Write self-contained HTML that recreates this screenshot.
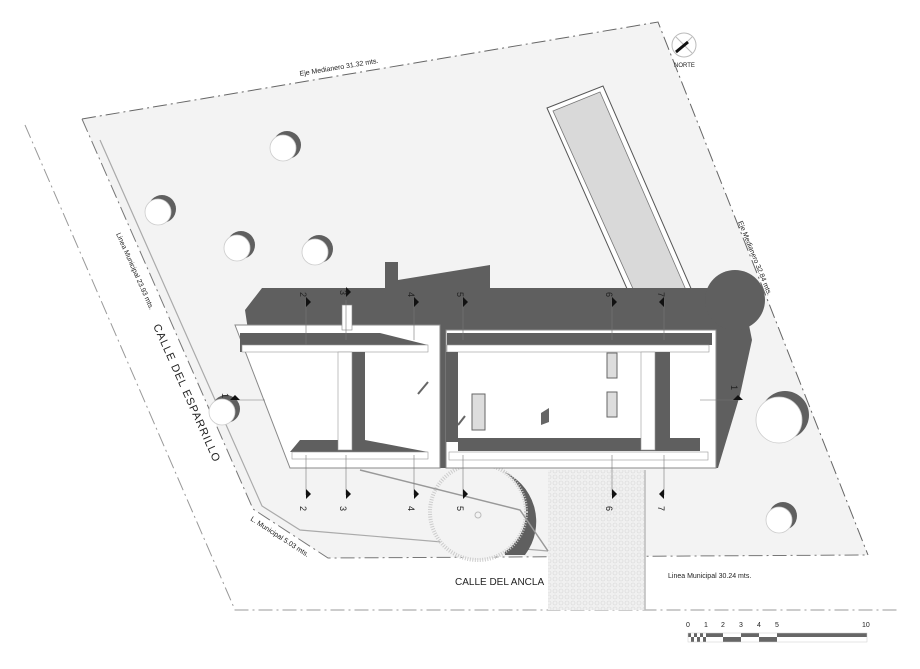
<!DOCTYPE html>
<html><head><meta charset="utf-8"><style>
html,body{margin:0;padding:0;background:#fff;}
svg{display:block;}
text{font-family:"Liberation Sans",sans-serif;fill:#222;}
</style></head><body>
<svg width="920" height="669" viewBox="0 0 920 669" xmlns="http://www.w3.org/2000/svg">
<defs>
<pattern id="pv" width="6" height="6" patternUnits="userSpaceOnUse"><rect width="6" height="6" fill="#f0f0f0"/><circle cx="3" cy="3" r="2" fill="none" stroke="#d8d8d8" stroke-width="0.6"/></pattern>
</defs>
<polygon points="82,119 658,22 868,555 328,558 253,509" fill="#f3f3f3"/>
<polyline points="82,119 658,22 868,555" fill="none" stroke="#666" stroke-width="1" stroke-dasharray="14,4,2,4"/>
<polyline points="82,119 253,509 328,558 868,555" fill="none" stroke="#777" stroke-width="1" stroke-dasharray="14,4,2,4"/>
<polyline points="100,140 262,506 300,530 548,551" fill="none" stroke="#aaa" stroke-width="1.2"/>
<polyline points="25,125 235,610 900,610" fill="none" stroke="#999" stroke-width="1" stroke-dasharray="14,4,2,4"/>
<rect x="548" y="470" width="97" height="140" fill="url(#pv)"/>
<line x1="645" y1="470" x2="645" y2="610" stroke="#bbb" stroke-width="1.5"/>
<polygon points="547,108 603,86 693,293 640,318" fill="#fff" stroke="#555" stroke-width="1"/>
<polygon points="553,111 600,92 686,290 643,311" fill="#d9d9d9" stroke="#777" stroke-width="0.8"/>
<polygon points="262,288 385,288 385,262 398,262 398,280 490,265 490,288 712,288 745,305 752,340 740,395 718,468 440,468 440,330 248,330 245,310" fill="#5f5f5f"/>
<circle cx="735" cy="300" r="30" fill="#5f5f5f"/>
<path d="M500,470 A55,55 0 0 1 525,555 L505,555 Z" fill="#5f5f5f"/>
<circle cx="478" cy="512" r="48" fill="#f3f3f3" stroke="#ccc" stroke-width="4" stroke-dasharray="1,1.5"/>
<circle cx="478" cy="515" r="3" fill="none" stroke="#bbb"/>
<polyline points="360,470 520,510 548,551" fill="none" stroke="#999" stroke-width="1.5"/>
<polygon points="235,325 440,325 440,468 290,468" fill="#fff" stroke="#888" stroke-width="1"/>
<polygon points="240,333 380,333 428,345 428,352 240,352" fill="#5f5f5f"/>
<rect x="242" y="345" width="186" height="7" fill="#fff" stroke="#999" stroke-width="0.6"/>
<rect x="342" y="305" width="10" height="25" fill="#fff" stroke="#888" stroke-width="0.6"/>
<rect x="352" y="352" width="13" height="88" fill="#5f5f5f"/>
<polygon points="290,452 300,440 365,440 428,452" fill="#5f5f5f"/>
<rect x="338" y="352" width="14" height="98" fill="#fff" stroke="#999" stroke-width="0.6"/>
<rect x="292" y="452" width="136" height="7" fill="#fff" stroke="#999" stroke-width="0.6"/>
<line x1="418" y1="394" x2="428" y2="382" stroke="#666" stroke-width="2"/>
<rect x="446" y="330" width="270" height="138" fill="#fff" stroke="#888" stroke-width="1"/>
<rect x="447" y="333" width="265" height="12" fill="#5f5f5f"/>
<rect x="447" y="345" width="262" height="7" fill="#fff" stroke="#999" stroke-width="0.6"/>
<rect x="446" y="352" width="12" height="90" fill="#5f5f5f"/>
<rect x="458" y="438" width="242" height="13" fill="#5f5f5f"/>
<rect x="655" y="352" width="15" height="88" fill="#5f5f5f"/>
<rect x="641" y="352" width="14" height="98" fill="#fff" stroke="#999" stroke-width="0.6"/>
<rect x="449" y="452" width="259" height="8" fill="#fff" stroke="#999" stroke-width="0.6"/>
<rect x="472" y="394" width="13" height="36" fill="#ddd" stroke="#666" stroke-width="1"/>
<rect x="607" y="353" width="10" height="25" fill="#ddd" stroke="#666" stroke-width="1"/>
<rect x="607" y="392" width="10" height="25" fill="#ddd" stroke="#666" stroke-width="1"/>
<polygon points="541,413 549,408 549,422 541,425" fill="#666"/>
<line x1="458" y1="425" x2="465" y2="416" stroke="#666" stroke-width="2"/>
<g fill="#fff" stroke="#ccc" stroke-width="0.8">
<g><circle cx="287" cy="145" r="14" fill="#5f5f5f" stroke="none"/><circle cx="283" cy="148" r="13"/></g>
<g><circle cx="162" cy="209" r="14" fill="#5f5f5f" stroke="none"/><circle cx="158" cy="212" r="13"/></g>
<g><circle cx="241" cy="245" r="14" fill="#5f5f5f" stroke="none"/><circle cx="237" cy="248" r="13"/></g>
<g><circle cx="319" cy="249" r="14" fill="#5f5f5f" stroke="none"/><circle cx="315" cy="252" r="13"/></g>
<g><circle cx="226" cy="409" r="14" fill="#5f5f5f" stroke="none"/><circle cx="222" cy="412" r="13"/></g>
<g><circle cx="785" cy="415" r="24" fill="#5f5f5f" stroke="none"/><circle cx="779" cy="420" r="23"/></g>
<g><circle cx="783" cy="516" r="14" fill="#5f5f5f" stroke="none"/><circle cx="779" cy="520" r="13"/></g>
</g>
<g stroke="#777" stroke-width="0.6">
<line x1="306" y1="300" x2="306" y2="345"/><line x1="346" y1="300" x2="346" y2="340"/><line x1="414" y1="300" x2="414" y2="340"/><line x1="463" y1="300" x2="463" y2="340"/><line x1="612" y1="300" x2="612" y2="340"/><line x1="664" y1="300" x2="664" y2="340"/>
<line x1="306" y1="455" x2="306" y2="495"/><line x1="346" y1="455" x2="346" y2="495"/><line x1="414" y1="455" x2="414" y2="495"/><line x1="463" y1="455" x2="463" y2="495"/><line x1="612" y1="455" x2="612" y2="495"/><line x1="664" y1="455" x2="664" y2="495"/>
<line x1="228" y1="400" x2="265" y2="400"/><line x1="700" y1="400" x2="740" y2="400"/>
</g>
<g fill="#111">
<polygon points="306,297 311,302 306,307"/><polygon points="346,287 351,292 346,297"/><polygon points="414,297 419,302 414,307"/><polygon points="463,297 468,302 463,307"/><polygon points="612,297 617,302 612,307"/><polygon points="664,297 659,302 664,307"/>
<polygon points="306,489 311,494 306,499"/><polygon points="346,489 351,494 346,499"/><polygon points="414,489 419,494 414,499"/><polygon points="463,489 468,494 463,499"/><polygon points="612,489 617,494 612,499"/><polygon points="664,489 659,494 664,499"/>
<polygon points="230,400 235,395 240,400"/><polygon points="733,400 738,395 743,400"/>
</g>
<g font-size="9">
<text transform="translate(300,292) rotate(90)">2</text><text transform="translate(340,290) rotate(90)">3</text><text transform="translate(408,292) rotate(90)">4</text><text transform="translate(457,292) rotate(90)">5</text><text transform="translate(606,292) rotate(90)">6</text><text transform="translate(658,292) rotate(90)">7</text>
<text transform="translate(300,506) rotate(90)">2</text><text transform="translate(340,506) rotate(90)">3</text><text transform="translate(408,506) rotate(90)">4</text><text transform="translate(457,506) rotate(90)">5</text><text transform="translate(606,506) rotate(90)">6</text><text transform="translate(658,506) rotate(90)">7</text>
<text transform="translate(222,393) rotate(90)">1</text><text transform="translate(731,385) rotate(90)">1</text>
</g>
<text font-size="7" transform="translate(300,76) rotate(-9.5)">Eje Medianero   31.32 mts.</text>
<text font-size="7" transform="translate(738,222) rotate(68)">Eje Medianero   32.84 mts.</text>
<text font-size="7" transform="translate(116,234) rotate(66)">Linea Municipal   23.93 mts.</text>
<text font-size="11" transform="translate(153,326) rotate(66)" letter-spacing="1">CALLE  DEL  ESPARRILLO</text>
<text font-size="7" transform="translate(250,520) rotate(33)">L. Municipal   5.03 mts.</text>
<text font-size="10" x="455" y="585">CALLE DEL ANCLA</text>
<text font-size="7" x="668" y="578">Linea Municipal   30.24 mts.</text>
<circle cx="684" cy="45" r="12" fill="#fff" stroke="#bbb"/>
<line x1="676" y1="37" x2="692" y2="53" stroke="#bbb"/>
<line x1="676" y1="53" x2="692" y2="37" stroke="#bbb"/>
<line x1="676" y1="52" x2="688" y2="42" stroke="#111" stroke-width="3"/>
<text font-size="6" x="674" y="67">NORTE</text>
<g font-size="7"><text x="686" y="627">0</text><text x="704" y="627">1</text><text x="721" y="627">2</text><text x="739" y="627">3</text><text x="757" y="627">4</text><text x="775" y="627">5</text><text x="862" y="627">10</text></g>
<rect x="688" y="633" width="179" height="9" fill="#fff"/>
<g fill="#666">
<rect x="688" y="633" width="3" height="4"/><rect x="694" y="633" width="3" height="4"/><rect x="700" y="633" width="3" height="4"/>
<rect x="691" y="637" width="3" height="5"/><rect x="697" y="637" width="3" height="5"/><rect x="703" y="637" width="3" height="5"/>
<rect x="706" y="633" width="17" height="4"/><rect x="723" y="637" width="18" height="5"/><rect x="741" y="633" width="18" height="4"/><rect x="759" y="637" width="18" height="5"/><rect x="777" y="633" width="90" height="4"/>
</g>
<rect x="688" y="633" width="179" height="9" fill="none" stroke="#ccc" stroke-width="0.5"/>
</svg>
</body></html>
